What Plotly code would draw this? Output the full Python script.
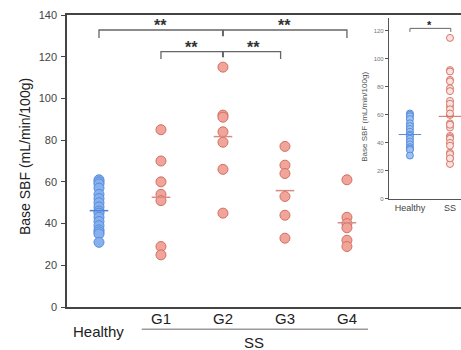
import plotly.graph_objects as go

# ---------------- data ----------------
categories = ["Healthy", "G1", "G2", "G3", "G4"]
healthy = [61, 60, 59, 57, 54, 52, 50, 48, 46, 45, 43, 41, 39, 37, 36, 35, 31]
g1 = [85, 70, 60, 54, 51, 29, 25]
g2 = [115, 92, 91, 84, 79, 66, 45]
g3 = [77, 68, 64, 53, 44, 33]
g4 = [61, 43, 40, 38, 32, 29]
group_means = [46.2, 52.6, 81.7, 55.8, 40.4]
inset_categories = ["Healthy", "SS"]
inset_means = [46, 59]
y_ticks = [0, 20, 40, 60, 80, 100, 120, 140]
inset_y_ticks = [0, 20, 40, 60, 80, 100, 120]
# significance comparisons (pairs of category indices) and labels
main_brackets = [((0, 4), 2, 129.0, 132.8), ((1, 2.93), 2, 118.9, 122.4)]
main_stars = [(1.0, 135.0, "**"), (3.0, 135.0, "**"), (1.5, 124.6, "**"), (2.5, 124.6, "**")]

FONT = "Liberation Sans, Arial, sans-serif"
BLUE_FILL, BLUE_LINE = "#86b0ee", "#5a8ddc"
RED_FILL, RED_LINE = "#f1a59a", "#d26f60"

groups = [healthy, g1, g2, g3, g4]
fig = go.Figure()

for i, vals in enumerate(groups):
    blue = i == 0
    fig.add_trace(go.Scatter(
        x=[i] * len(vals), y=vals, mode="markers",
        marker=dict(size=10, color=BLUE_FILL if blue else RED_FILL,
                    line=dict(color=BLUE_LINE if blue else RED_LINE, width=1)),
        showlegend=False, xaxis="x", yaxis="y"))
    fig.add_trace(go.Scatter(
        x=[i - 0.15, i + 0.15], y=[group_means[i]] * 2, mode="lines",
        line=dict(color="#4f84d8" if blue else "#d88a84", width=1.5),
        showlegend=False, xaxis="x", yaxis="y"))

# inset
ss_all = g1 + g2 + g3 + g4
inset_groups = [healthy, ss_all]
for i, vals in enumerate(inset_groups):
    blue = i == 0
    fig.add_trace(go.Scatter(
        x=[i] * len(vals), y=vals, mode="markers",
        marker=dict(size=7, color="#9fc1f2" if blue else "#fbe2de",
                    line=dict(color=BLUE_LINE if blue else "#d8776a", width=1)),
        showlegend=False, xaxis="x2", yaxis="y2"))
    fig.add_trace(go.Scatter(
        x=[i - 0.28, i + 0.28], y=[inset_means[i]] * 2, mode="lines",
        line=dict(color="#5a8ddc" if blue else "#d06a60", width=1),
        showlegend=False, xaxis="x2", yaxis="y2"))

shapes = []
bc = "#666666"
for (a, b), mid, leg, top in main_brackets:
    shapes.append(dict(type="path", xref="x", yref="y",
                       path=f"M {a},{leg} L {a},{top} L {b},{top} L {b},{leg}",
                       line=dict(color=bc, width=1.3)))
    shapes.append(dict(type="line", xref="x", yref="y", x0=mid, x1=mid,
                       y0=top, y1=leg + 0.8, line=dict(color=bc, width=2)))
# inset bracket
shapes.append(dict(type="path", xref="x2", yref="y2",
                   path="M 0,119.3 L 0,121.8 L 1.02,121.8 L 1.02,119.3",
                   line=dict(color=bc, width=1)))
# SS underline
shapes.append(dict(type="line", xref="x", yref="paper", x0=1 - 0.31, x1=4 + 0.34,
                   y0=-0.0764, y1=-0.0764, line=dict(color="#999999", width=1.5)))

annotations = []
for x, y, t in main_stars:
    annotations.append(dict(x=x, y=y, xref="x", yref="y", text=f"<b>{t}</b>",
                            showarrow=False,
                            font=dict(family=FONT, size=16, color="#333"),
                            yanchor="middle"))
annotations.append(dict(x=0.5, y=124.0, xref="x2", yref="y2", text="<b>*</b>",
                        showarrow=False,
                        font=dict(family=FONT, size=11, color="#222")))
for i, c in enumerate(categories):
    annotations.append(dict(x=i, y=-0.041 if i else -0.0846, xref="x", yref="paper",
                            text=c, showarrow=False, yanchor="middle",
                            font=dict(family=FONT, size=15, color="#222")))
annotations.append(dict(x=2.5, y=-0.12, xref="x", yref="paper", text="SS",
                        showarrow=False, yanchor="middle",
                        font=dict(family=FONT, size=15, color="#222")))
annotations.append(dict(x=-0.1066, y=0.517, xref="paper", yref="paper",
                        xanchor="center", yanchor="middle",
                        text="Base SBF (mL/min/100g)", textangle=-90, showarrow=False,
                        font=dict(family=FONT, size=14, color="#222")))
annotations.append(dict(x=0.756, y=0.651, xref="paper", yref="paper",
                        xanchor="center", yanchor="middle",
                        text="Base SBF (mL/min/100g)", textangle=-90, showarrow=False,
                        font=dict(family=FONT, size=8, color="#555")))

fig.update_layout(
    width=461, height=350,
    margin=dict(l=67, r=0, t=15, b=43),
    paper_bgcolor="white", plot_bgcolor="white",
    shapes=shapes, annotations=annotations,
    xaxis=dict(range=[-0.516, 5.84], showline=True, linecolor="#444", linewidth=1.5,
               mirror=True, showticklabels=False, ticks="", showgrid=False,
               zeroline=False),
    yaxis=dict(range=[0, 140], tickvals=y_ticks, showline=True, linecolor="#444",
               linewidth=1.5, ticks="outside", ticklen=4, tickcolor="#444",
               ticklabelstandoff=2, showgrid=False, zeroline=False,
               tickfont=dict(family=FONT, size=11, color="#444")),
    xaxis2=dict(domain=[0.817, 1], anchor="y2", range=[-0.525, 1.275],
                tickvals=[0, 1], ticktext=inset_categories, showline=True,
                linecolor="#555", linewidth=1, ticks="", showgrid=False,
                zeroline=False, tickfont=dict(family=FONT, size=9, color="#444")),
    yaxis2=dict(domain=[0.370, 0.9887], anchor="x2", range=[0, 129],
                tickvals=inset_y_ticks, showline=True, linecolor="#555",
                linewidth=1, ticks="outside", ticklen=3, tickcolor="#555",
                showgrid=False, zeroline=False,
                tickfont=dict(family=FONT, size=6, color="#777")),
)

fig.write_html(
    "out.html",
    config={"displayModeBar": False},
    post_script="document.body.style.margin='0';document.body.style.overflow='hidden';",
)
